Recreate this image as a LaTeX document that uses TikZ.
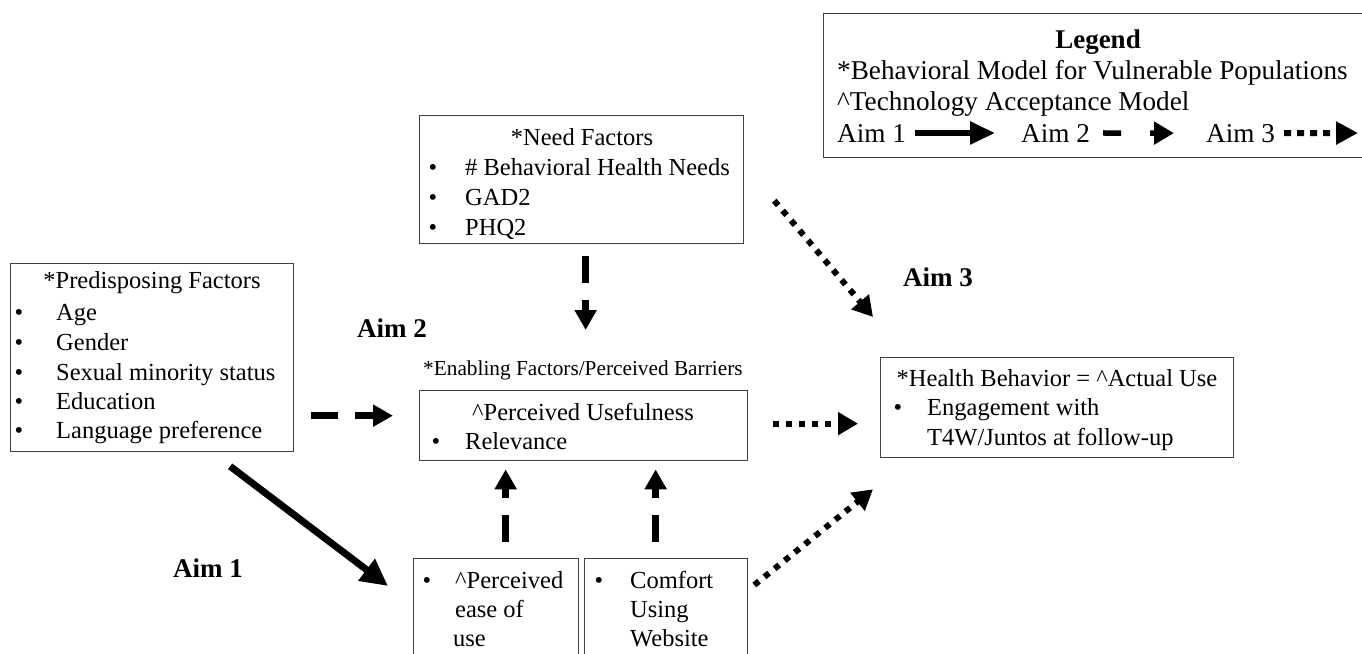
\documentclass[tikz,border=0pt]{standalone}
\usepackage{fontspec}
\setmainfont{Liberation Serif}
\usetikzlibrary{arrows.meta}
\definecolor{boxgray}{RGB}{64,64,64}
\tikzset{
  box/.style={draw=boxgray, line width=1.3pt, inner sep=0pt, anchor=north west, rectangle},
  txt/.style={inner sep=0pt, anchor=base west, font=\fontsize{24.5}{30}\selectfont},
  ctxt/.style={txt, anchor=base},
  bul/.style={inner sep=0pt, anchor=base, font=\fontsize{24.5}{30}\selectfont},
  smalltxt/.style={inner sep=0pt, anchor=base west, font=\fontsize{21.3}{26}\selectfont},
  aimlbl/.style={inner sep=0pt, anchor=base west, font=\bfseries\fontsize{27}{32}\selectfont},
  lgtxt/.style={inner sep=0pt, anchor=base west, font=\fontsize{27.2}{32}\selectfont},
  solidarr/.style={line width=7pt, -{Triangle[length=27pt,width=26pt]}},
  dasharr/.style={line width=7pt, dash pattern=on 27pt off 17pt, -{Triangle[length=20pt,width=21pt]}},
  dotarr/.style={line width=6pt, dash pattern=on 6pt off 7pt, -{Triangle[length=20pt,width=22pt]}},
  legsolid/.style={line width=5.5pt, -{Triangle[length=25pt,width=22pt]}},
  legdash/.style={line width=5.5pt, dash pattern=on 18pt off 29pt, -{Triangle[length=20pt,width=22pt]}},
  legdot/.style={line width=6pt, dash pattern=on 7pt off 6pt, -{Triangle[length=22pt,width=22pt]}},
}
\begin{document}
\begin{tikzpicture}[x=1pt,y=-1pt]
\useasboundingbox (0,0) rectangle (1362,653);
\clip (0,0) rectangle (1362,653);
\fill[white] (0,0) rectangle (1362,653);

% ---------- Legend ----------
\node[box, minimum width=560pt, minimum height=144pt] (legend) at (823,13) {};
\node[inner sep=0pt, anchor=base, font=\bfseries\fontsize{27}{32}\selectfont] (legtitle) at (1098,48) {Legend};
\node[lgtxt] (leg1) at (837,79) {*Behavioral Model for Vulnerable Populations};
\node[lgtxt] (leg2) at (837,110) {\^{}Technology Acceptance Model};
\node[lgtxt] (la1) at (837,142) {Aim 1};
\node[lgtxt] (la2) at (1021,142) {Aim 2};
\node[lgtxt] (la3) at (1206,142) {Aim 3};
\coordinate (legend-end) at (1358,133);
\draw[legsolid] ([xshift=9pt]la1.east) -- ([xshift=-26pt]la2.west);
\draw[legdash] ([xshift=13pt]la2.east) -- ([xshift=-32pt]la3.west);
\draw[legdot] ([xshift=9pt]la3.east) -- (legend-end);

% ---------- Need factors ----------
\node[box, minimum width=324pt, minimum height=128pt] (need) at (419,115) {};
\node[ctxt] (needt) at (582,145) {*Need Factors};
\node[bul] (nb1) at (433,175) {•};
\node[txt] (n1) at (465,175) {\# Behavioral Health Needs};
\node[bul] (nb2) at (433,205) {•};
\node[txt] (n2) at (465,205) {GAD2};
\node[bul] (nb3) at (433,235) {•};
\node[txt] (n3) at (465,235) {PHQ2};

% ---------- Predisposing factors ----------
\node[box, minimum width=283pt, minimum height=188pt] (pred) at (10,263) {};
\node[ctxt] (predt) at (152,288) {*Predisposing Factors};
\node[bul] (pb1) at (19,320) {•};
\node[txt] (p1) at (56,320) {Age};
\node[bul] (pb2) at (19,350) {•};
\node[txt] (p2) at (56,350) {Gender};
\node[bul] (pb3) at (19,380) {•};
\node[txt] (p3) at (56,380) {Sexual minority status};
\node[bul] (pb4) at (19,409) {•};
\node[txt] (p4) at (56,409) {Education};
\node[bul] (pb5) at (19,438) {•};
\node[txt] (p5) at (56,438) {Language preference};

% ---------- Enabling factors ----------
\node[smalltxt] (enabl) at (423,375) {*Enabling Factors/Perceived Barriers};
\node[box, minimum width=328pt, minimum height=70pt] (enab) at (419,390) {};
\node[ctxt] (enabt) at (583,420) {\^{}Perceived Usefulness};
\node[bul] (eb1) at (436,449) {•};
\node[txt] (e1) at (465,449) {Relevance};

% ---------- Health behavior ----------
\node[box, minimum width=353pt, minimum height=100pt] (health) at (880,357) {};
\node[ctxt] (healtht) at (1057,386) {*Health Behavior = \^{}Actual Use};
\node[bul] (hb1) at (898,415) {•};
\node[txt] (h1) at (927,415) {Engagement with};
\node[txt] (h2) at (927,445) {T4W/Juntos at follow-up};

% ---------- Bottom boxes ----------
\node[box, minimum width=165pt, minimum height=142pt] (ease) at (413,558) {};
\node[bul] (bb1) at (427,588) {•};
\node[txt] (b11) at (455,588) {\^{}Perceived};
\node[txt] (b12) at (455,617) {ease of};
\node[txt] (b13) at (453,646) {use};
\node[box, minimum width=163pt, minimum height=142pt] (comfort) at (584,558) {};
\node[bul] (bb2) at (599,588) {•};
\node[txt] (b21) at (630,588) {Comfort};
\node[txt] (b22) at (630,617) {Using};
\node[txt] (b23) at (630,646) {Website};

% ---------- Aim labels ----------
\node[aimlbl] (aim1) at (173,577) {Aim 1};
\node[aimlbl] (aim2) at (357,337) {Aim 2};
\node[aimlbl] (aim3) at (903,286) {Aim 3};

% ---------- Connectors ----------
% Aim 1 (solid)
\draw[solidarr] ([xshift=78pt,yshift=-14pt]pred.south) -- ([xshift=-25pt,yshift=-28pt]ease.north west);
% Aim 2 (dashed)
\draw[dasharr] ([xshift=17pt,yshift=-58pt]pred.east) -- ([xshift=-26pt,yshift=10pt]enab.west);
\draw[dasharr] ([xshift=4pt,yshift=-12pt]need.south) -- ([xshift=2pt,yshift=60pt]enab.north);
\draw[dasharr] ([xshift=9.5pt,yshift=16pt]ease.north) -- ([xshift=-78pt,yshift=-8pt]enab.south);
\draw[dasharr] ([xshift=-10.5pt,yshift=16pt]comfort.north) -- ([xshift=72pt,yshift=-8pt]enab.south);
% Aim 3 (dotted)
\draw[dotarr] ([xshift=30pt,yshift=-21pt]need.east) -- ([xshift=-7pt,yshift=40pt]health.north west);
\draw[dotarr] ([xshift=25pt,yshift=2pt]enab.east) -- ([xshift=-22pt,yshift=-16pt]health.west);
\draw[dotarr] ([xshift=6pt,yshift=-27pt]comfort.north east) -- ([xshift=-7pt,yshift=-31pt]health.south west);
\end{tikzpicture}
\end{document}
